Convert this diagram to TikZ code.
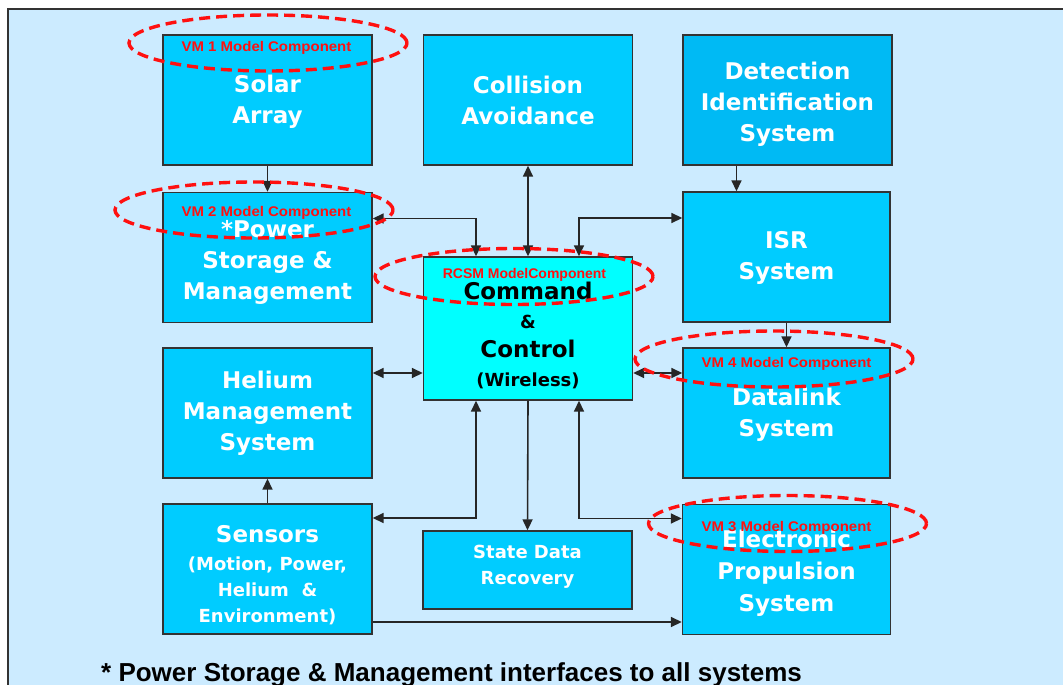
\documentclass[tikz,border=0pt]{standalone}
\usepackage{fontspec}
\setmainfont{DejaVu Sans}
\newfontfamily\tagfont{Liberation Sans}
\newfontfamily\notefont{Liberation Sans}
\usetikzlibrary{arrows.meta,shapes.geometric}

\definecolor{panel}{HTML}{CCEBFF}
\definecolor{boxfill}{HTML}{00CCFF}
\definecolor{detfill}{HTML}{00BAF4}
\definecolor{cmdfill}{HTML}{00FFFF}
\definecolor{edge}{HTML}{333333}
\definecolor{ringred}{HTML}{FF1010}

% multi-line box text, moved down by #1 inside its box
\newcommand{\boxlines}[3]{\raisebox{0pt}[\dimexpr\height+#1\relax][\dimexpr\depth-#1\relax]{#2\begin{tabular}{@{}c@{}}#3\end{tabular}}}

\tikzset{
  x=1pt, y=-1pt,
  block/.style={draw=edge, line width=1.4pt, fill=boxfill, minimum width=209pt,
    minimum height=130pt, inner sep=0pt, text=white, font=\bfseries},
  link/.style={draw=black!85, line width=1.6pt, -{Triangle[length=11pt,width=10pt]}},
  twoway/.style={draw=black!85, line width=1.6pt,
    {Triangle[length=11pt,width=10pt]}-{Triangle[length=11pt,width=10pt]}},
  ring/.style={ellipse, draw=ringred, line width=3.4pt, dash pattern=on 11pt off 6pt,
    minimum width=278pt, minimum height=56pt, inner sep=0pt},
  tag/.style={text=ringred, inner sep=0pt, font=\tagfont\bfseries\fontsize{14}{14}\selectfont},
}

\newcommand{\boxsize}{\fontsize{23}{31}\selectfont}

\begin{document}
\begin{tikzpicture}
\useasboundingbox (0,0) rectangle (1063,685);
\fill[white] (0,0) rectangle (1063,685);
\fill[panel] (7.5,9.5) rectangle (1063,685);
\draw[edge, line width=2pt] (7.5,685) -- (7.5,9.5) -- (1063,9.5);

% subsystem blocks
\node[block] (solar) at (267.5,100) {\boxlines{2pt}{\boxsize}{Solar\\Array}};
\node[block] (coll) at (528,100) {\boxlines{3pt}{\boxsize}{Collision\\Avoidance}};
\node[block, fill=detfill] (det) at (787.5,100) {\boxlines{4pt}{\boxsize}{Detection\\Identification\\System}};
\node[block] (power) at (267.5,257.5) {\boxlines{5pt}{\boxsize}{*Power\\Storage \&\\Management}};
\node[block, minimum width=207pt] (isr) at (786.5,257) {\boxlines{1pt}{\boxsize}{ISR\\System}};
\node[block, fill=cmdfill, minimum height=143pt, text=black] (cmd) at (528,328.5)
  {\boxlines{9pt}{\fontsize{23}{29}\selectfont}{Command\\{\fontsize{18}{29}\selectfont\&}\\Control\\{\fontsize{18}{29}\selectfont(Wireless)}}};
\node[block] (helium) at (267.5,413) {\boxlines{0pt}{\boxsize}{Helium\\Management\\System}};
\node[block, minimum width=207pt] (data) at (786.5,413) {\boxlines{2pt}{\boxsize}{Datalink\\System}};
\node[block] (sensors) at (267.5,569)
  {\boxlines{8pt}{\fontsize{18}{26}\selectfont}{{\fontsize{23}{26}\selectfont Sensors}\\[2pt](Motion, Power,\\Helium\ \ \&\\Environment)}};
\node[block, minimum height=78pt] (state) at (527.5,570) {\boxlines{-4pt}{\fontsize{18}{26}\selectfont}{State Data\\Recovery}};
\node[block, minimum width=208pt] (prop) at (786.5,569.5) {\boxlines{4pt}{\fontsize{23}{32}\selectfont}{Electronic\\Propulsion\\System}};

% interfaces
\draw[link] (solar.south) -- (power.north);
\draw[twoway] (coll.south) -- (cmd.north);
\draw[link] ([xshift=-51pt]det.south) -- ([xshift=-51pt]det.south |- isr.north);
\draw[link] (isr.south) -- (data.north);
\draw[twoway] ([yshift=39pt]power.east) -| ([xshift=-52pt]cmd.north);
\draw[twoway] ([xshift=51pt]cmd.north) |- ([yshift=39pt]isr.west);
\draw[twoway] ([yshift=40pt]helium.east) -- ([yshift=40pt]helium.east -| cmd.west);
\draw[twoway] ([yshift=40pt]data.west -| cmd.east) -- ([yshift=40pt]data.west);
\draw[link] (sensors.north) -- (helium.south);
\draw[twoway] ([xshift=-52pt]cmd.south) |- ([yshift=51pt]sensors.east);
\draw[link] (cmd.south) -- (state.north);
\draw[twoway] ([xshift=51pt]cmd.south) |- ([yshift=51pt]prop.west);
\draw[link] ([yshift=-53pt]sensors.east) -- ([yshift=-53pt]sensors.east -| prop.west);

% model component markers
\node[ring] (vm1) at (268,43) {};
\node[ring] (vm2) at (254,210) {};
\node[ring] (rcsm) at (514,276.5) {};
\node[ring] (vm4) at (774,359) {};
\node[ring] (vm3) at (787.5,523.5) {};
\node[tag] (vm1t) at (266.5,48) {\scalebox{1.07}[1]{VM 1 Model Component}};
\node[tag] (vm2t) at (266.5,213) {\scalebox{1.07}[1]{VM 2 Model Component}};
\node[tag] (rcsmt) at (524.5,275) {RCSM ModelComponent};
\node[tag] (vm4t) at (786.5,363.5) {\scalebox{1.07}[1]{VM 4 Model Component}};
\node[tag] (vm3t) at (786.5,528) {\scalebox{1.07}[1]{VM 3 Model Component}};

% footnote
\node[anchor=base west, inner sep=0pt, font=\notefont\bfseries\fontsize{26}{26}\selectfont] (note) at (101,681)
  {* Power Storage \& Management interfaces to all systems};
\end{tikzpicture}
\end{document}
